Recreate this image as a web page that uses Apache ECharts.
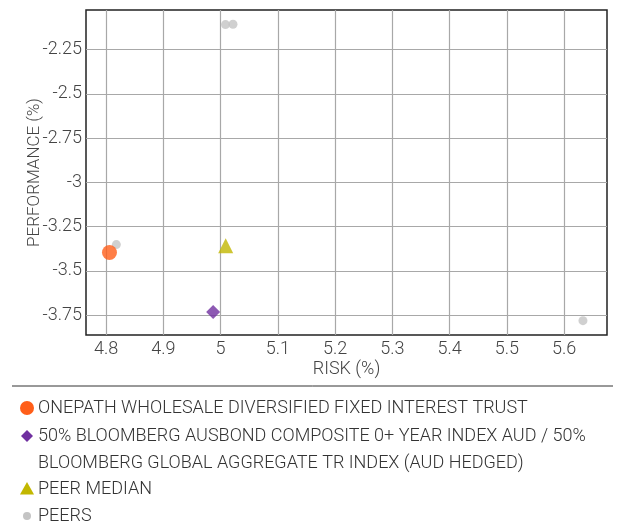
<!DOCTYPE html>
<html>
<head>
<meta charset="utf-8">
<script src="https://cdn.jsdelivr.net/npm/echarts@6/dist/echarts.min.js"></script>
<style>
html,body{margin:0;padding:0;background:#fff;}
#chart{width:625px;height:526px;}
</style>
</head>
<body>
<div id="chart"></div>
<script>
// ---- data ----
var fundName = 'ONEPATH WHOLESALE DIVERSIFIED FIXED INTEREST TRUST';
var indexName = '50% BLOOMBERG AUSBOND COMPOSITE 0+ YEAR INDEX AUD / 50%\nBLOOMBERG GLOBAL AGGREGATE TR INDEX (AUD HEDGED)';
var medianName = 'PEER MEDIAN';
var peersName = 'PEERS';

var fundPoint = [[4.806, -3.397]];
var indexPoint = [[4.987, -3.733]];
var medianPoint = [[5.009, -3.359]];
var peerPoints = [[4.818, -3.352], [5.0086, -2.109], [5.0217, -2.107], [5.633, -3.782]];

var xTicks = [4.8, 4.9, 5.0, 5.1, 5.2, 5.3, 5.4, 5.5, 5.6];
var yTicks = [-3.75, -3.5, -3.25, -3, -2.75, -2.5, -2.25];
var xRange = [4.765, 5.675];
var yRange = [-3.863, -2.0265];

var colors = {fund: '#FF5E19', index: '#7030A0', median: '#C2B700', peers: '#C4C4C4'};
var FONT = 'Roboto';

var chart = echarts.init(document.getElementById('chart'));

var legendRows = [
  {name: fundName, color: colors.fund, shape: 'circle', size: 14, y: 408},
  {name: indexName, color: colors.index, shape: 'diamond', size: 12, y: 436},
  {name: medianName, color: colors.median, shape: 'triangle', size: 14, y: 489},
  {name: peersName, color: colors.peers, shape: 'circle', size: 8, y: 516}
];

var graphics = [{
  type: 'line', shape: {x1: 12, y1: 386, x2: 613, y2: 386},
  style: {stroke: '#333', lineWidth: 1}
}];
legendRows.forEach(function (r) {
  var icon;
  var cx = 27, cy = r.y, s = r.size / 2;
  if (r.shape === 'circle') {
    icon = {type: 'circle', shape: {cx: cx, cy: cy, r: s}, style: {fill: r.color}};
  } else if (r.shape === 'diamond') {
    icon = {type: 'polygon', shape: {points: [[cx, cy - s], [cx + s, cy], [cx, cy + s], [cx - s, cy]]}, style: {fill: r.color}};
  } else {
    icon = {type: 'polygon', shape: {points: [[cx, cy - s], [cx + s, cy + s * 0.8], [cx - s, cy + s * 0.8]]}, style: {fill: r.color}};
  }
  graphics.push(icon);
  graphics.push({
    type: 'text', x: 38, y: r.y - 13.5,
    style: {text: r.name, fill: '#333', font: '300 18px ' + FONT, lineHeight: 27, verticalAlign: 'top'}
  });
});

chart.setOption({
  backgroundColor: '#fff',
  animation: false,
  textStyle: {fontFamily: FONT},
  grid: {left: 86, right: 18, top: 10, bottom: 191, show: true, borderColor: '#222', borderWidth: 1.5, containLabel: false},
  xAxis: {
    type: 'value', min: xRange[0], max: xRange[1],
    name: 'RISK (%)', nameLocation: 'middle', nameGap: 25, nameMoveOverlap: false,
    nameTextStyle: {fontSize: 18, color: '#444', fontWeight: 300},
    axisLine: {show: false}, axisTick: {show: false, customValues: xTicks},
    axisLabel: {customValues: xTicks, fontSize: 18, color: '#444', fontWeight: 300, margin: 5,
      formatter: function (v) { return String(Math.round(v * 10) / 10); }},
    splitLine: {show: true, lineStyle: {color: '#a8a8a8', width: 1.2}}
  },
  yAxis: {
    type: 'value', min: yRange[0], max: yRange[1],
    name: 'PERFORMANCE (%)', nameLocation: 'middle', nameGap: 43, nameRotate: 90, nameMoveOverlap: false,
    nameTextStyle: {fontSize: 17, color: '#444', fontWeight: 300},
    axisLine: {show: false}, axisTick: {show: false, customValues: yTicks},
    axisLabel: {customValues: yTicks, fontSize: 18, color: '#444', fontWeight: 300, margin: 4,
      formatter: function (v) { return String(Math.round(v * 100) / 100); }},
    splitLine: {show: true, lineStyle: {color: '#a8a8a8', width: 1.2}}
  },
  series: [
    {name: peersName, type: 'scatter', data: peerPoints, symbol: 'circle', symbolSize: 9, itemStyle: {color: colors.peers}, z: 2},
    {name: medianName, type: 'scatter', data: medianPoint, symbol: 'triangle', symbolSize: 15, itemStyle: {color: colors.median}, z: 3},
    {name: indexName, type: 'scatter', data: indexPoint, symbol: 'diamond', symbolSize: 14, itemStyle: {color: colors.index}, z: 3},
    {name: fundName, type: 'scatter', data: fundPoint, symbol: 'circle', symbolSize: 15, itemStyle: {color: colors.fund}, z: 4}
  ],
  graphic: graphics
});
</script>
</body>
</html>
